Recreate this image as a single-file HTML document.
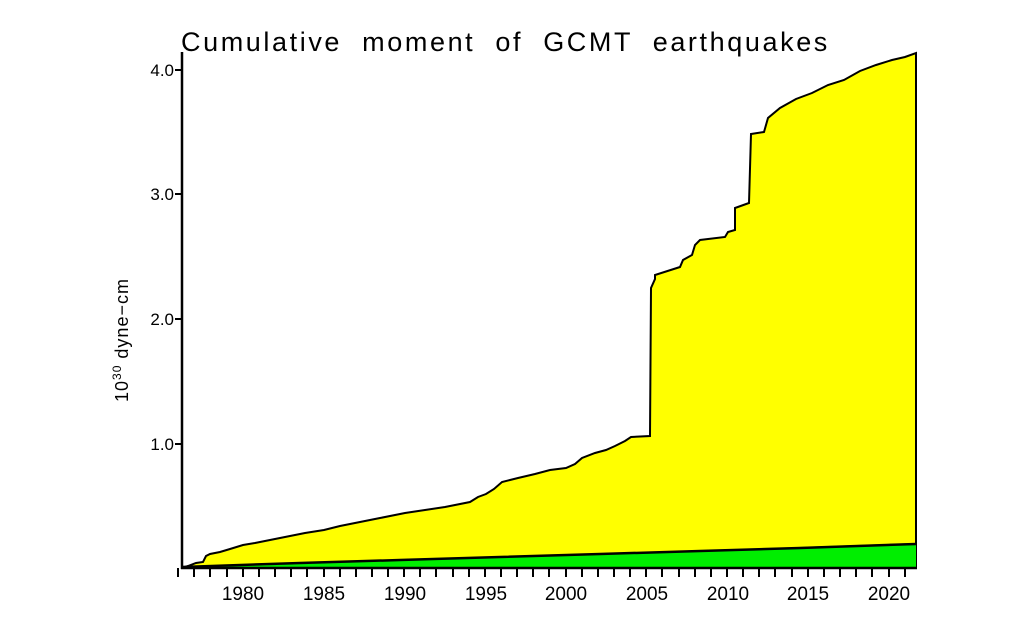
<!DOCTYPE html>
<html><head><style>
html,body{margin:0;padding:0;background:#fff;}
svg{display:block;}
text{font-family:"Liberation Sans","DejaVu Sans",sans-serif;fill:#000;}
</style></head><body>
<svg width="1023" height="621" viewBox="0 0 1023 621" xmlns="http://www.w3.org/2000/svg">
<text x="181" y="51" font-size="27" letter-spacing="2.6" word-spacing="10">Cumulative moment of GCMT earthquakes</text>
<polygon fill="#ffff00" stroke="#000" stroke-width="2" points="182,568 188,566 196,563 203,562 206,556 210,554 220,552 230,549 243,545 255,543 270,540 290,536 305,533 324,530 340,526 360,522 380,518 405,513 425,510 445,507 470,502 478,497 486,494 494,489 502,482 510,480 518,478 535,474 550,470 566,468 575,464 582,458 595,453 606,450 615,446 625,441 631,437 650,436 651,288 655,279 655,275 680,267 683,260 692,255 695,245 700,240 725,237 728,232 735,230 735,208 749,203 751,134 764,132 768,118 780,108 796,99 812,93 828,85 844,80 860,71 876,65 892,60 905,57 916,53 916,568"/>
<polygon fill="#00ee00" points="182,568 916,543 916,568"/>
<polyline fill="none" stroke="#000" stroke-width="2.5" points="182,567 300,563 400,560 500,557 600,554 700,551 800,548 916,544"/>
<line x1="182" y1="52" x2="182" y2="569" stroke="#000" stroke-width="2.5"/>
<line x1="181" y1="568" x2="917" y2="568" stroke="#000" stroke-width="2.5"/>
<g stroke="#000" stroke-width="2">
<line x1="175" y1="70" x2="182" y2="70"/><line x1="175" y1="194" x2="182" y2="194"/>
<line x1="175" y1="319" x2="182" y2="319"/><line x1="175" y1="444" x2="182" y2="444"/>
</g>
<g font-size="17" text-anchor="end">
<text x="174" y="76">4.0</text><text x="174" y="200">3.0</text>
<text x="174" y="325">2.0</text><text x="174" y="450">1.0</text>
</g>
<g stroke="#000" stroke-width="2">
<path d="M178,568v9M194,568v9M210,568v9M227,568v9M243,568v9M259,568v9M275,568v9M291,568v9M307,568v9M324,568v9M340,568v9M356,568v9M372,568v9M388,568v9M404,568v9M420,568v9M436,568v9M453,568v9M469,568v9M485,568v9M501,568v9M517,568v9M533,568v9M549,568v9M566,568v9M582,568v9M598,568v9M614,568v9M630,568v9M646,568v9M662,568v9M679,568v9M695,568v9M711,568v9M727,568v9M743,568v9M759,568v9M775,568v9M792,568v9M808,568v9M824,568v9M840,568v9M856,568v9M872,568v9M889,568v9M905,568v9"/>
</g>
<g font-size="19" text-anchor="middle">
<text x="243" y="600">1980</text><text x="324" y="600">1985</text><text x="405" y="600">1990</text>
<text x="486" y="600">1995</text><text x="566" y="600">2000</text><text x="647" y="600">2005</text>
<text x="728" y="600">2010</text><text x="808" y="600">2015</text><text x="889" y="600">2020</text>
</g>
<text transform="translate(128,340) rotate(-90)" font-size="18" text-anchor="middle" letter-spacing="1">10<tspan font-size="12" dy="-7">30</tspan><tspan dy="7"> dyne−cm</tspan></text>
</svg>
</body></html>
